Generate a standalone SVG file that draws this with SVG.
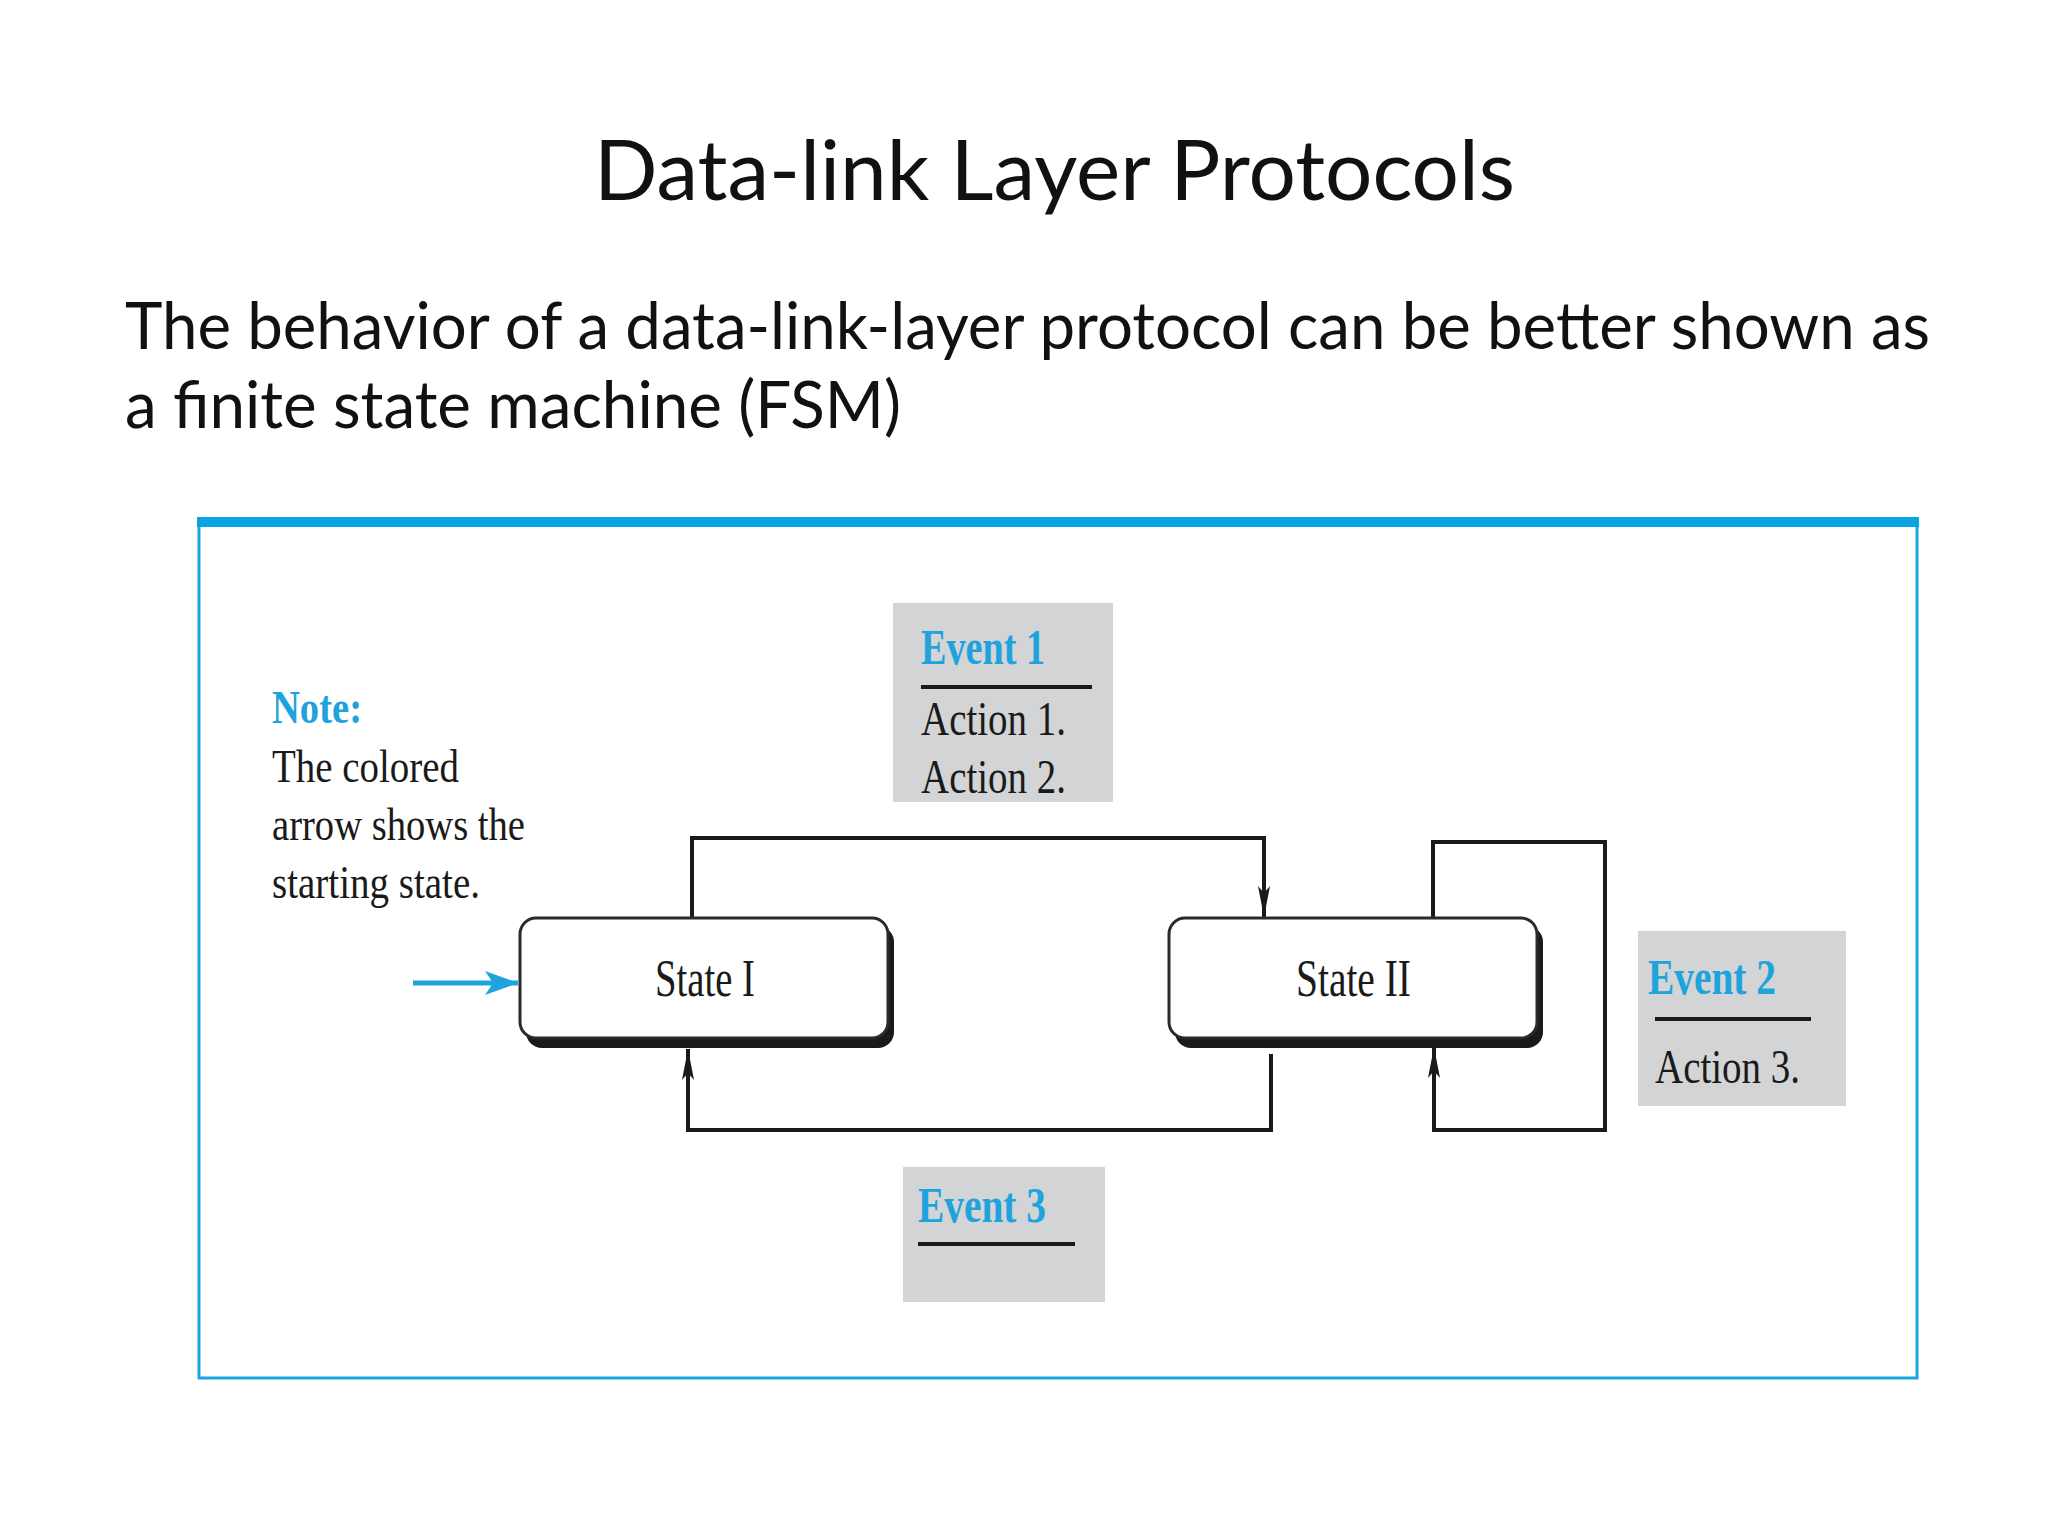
<svg xmlns="http://www.w3.org/2000/svg" width="2048" height="1536" viewBox="0 0 2048 1536">
<style>
.title{font-family:Lato,"Open Sans","Liberation Sans",sans-serif;fill:#111;}
.serif{font-family:"Liberation Serif","Times New Roman",serif;fill:#1a1a1a;}
.ev{font-family:"Liberation Serif","Times New Roman",serif;font-weight:bold;fill:#1ea3dc;}
.conn{fill:none;stroke:#1a1a1a;stroke-width:4;}
.gbox{fill:#d3d4d6;}
.ul{stroke:#1a1a1a;stroke-width:4;}
.shadow{fill:#1a1a1a;}
.state{fill:#fff;stroke:#2a2a2a;stroke-width:3;}
</style>
<defs>
<marker id="ah" markerUnits="userSpaceOnUse" markerWidth="32" markerHeight="16" viewBox="0 -8 32 16" refX="31" refY="0" orient="auto">
<path d="M0,-6 L31,0 L0,6 L7,0 z" fill="#1a1a1a"/>
</marker>
<marker id="bh" markerUnits="userSpaceOnUse" markerWidth="34" markerHeight="26" viewBox="0 -13 34 26" refX="33" refY="0" orient="auto">
<path d="M0,-12 L33,0 L0,12 L8,0 z" fill="#1ea3dc"/>
</marker>
</defs>
<rect width="2048" height="1536" fill="#fff"/>
<g id="heading">
<text class="title" x="594" y="200" font-size="84" textLength="921" lengthAdjust="spacingAndGlyphs">Data-link Layer Protocols</text>
<text class="title" x="125" y="349" font-size="66" textLength="1805" lengthAdjust="spacingAndGlyphs">The behavior of a data-link-layer protocol can be better shown as</text>
<text class="title" x="125" y="428" font-size="66" textLength="776" lengthAdjust="spacingAndGlyphs">a finite state machine (FSM)</text>
</g>
<g id="frame">
<rect x="199" y="522" width="1718" height="856" fill="none" stroke="#19a6e0" stroke-width="3"/>
<rect x="197" y="517" width="1722" height="10" fill="#0ba3e2"/>
</g>
<g id="note">
<text class="ev" x="272" y="723" font-size="47" textLength="90" lengthAdjust="spacingAndGlyphs">Note:</text>
<text class="serif" x="272" y="782" font-size="47" textLength="187" lengthAdjust="spacingAndGlyphs">The colored</text>
<text class="serif" x="272" y="840" font-size="47" textLength="253" lengthAdjust="spacingAndGlyphs">arrow shows the</text>
<text class="serif" x="272" y="898" font-size="47" textLength="208" lengthAdjust="spacingAndGlyphs">starting state.</text>
</g>
<g id="connectors">
<line x1="413" y1="983" x2="518" y2="983" stroke="#1ea3dc" stroke-width="5" marker-end="url(#bh)"/>
<path class="conn" d="M692,918 V838 H1264 V917" marker-end="url(#ah)"/>
<path class="conn" d="M1271,1054 V1130 H688 V1049" marker-end="url(#ah)"/>
<path class="conn" d="M1433,918 V842 H1605 V1130 H1434 V1047" marker-end="url(#ah)"/>
</g>
<g id="state1">
<rect class="shadow" x="526" y="926" width="368" height="122" rx="16"/>
<rect class="state" x="520" y="918" width="368" height="120" rx="16"/>
<text class="serif" x="655" y="996" font-size="52" textLength="100" lengthAdjust="spacingAndGlyphs">State I</text>
</g>
<g id="state2">
<rect class="shadow" x="1175" y="926" width="368" height="122" rx="16"/>
<rect class="state" x="1169" y="918" width="368" height="120" rx="16"/>
<text class="serif" x="1296" y="996" font-size="52" textLength="115" lengthAdjust="spacingAndGlyphs">State II</text>
</g>
<g id="event1">
<rect class="gbox" x="893" y="603" width="220" height="199"/>
<text class="ev" x="921" y="664" font-size="50" textLength="124" lengthAdjust="spacingAndGlyphs">Event 1</text>
<line class="ul" x1="921" y1="687" x2="1092" y2="687"/>
<text class="serif" x="921" y="735" font-size="49" textLength="145" lengthAdjust="spacingAndGlyphs">Action 1.</text>
<text class="serif" x="921" y="793" font-size="49" textLength="145" lengthAdjust="spacingAndGlyphs">Action 2.</text>
</g>
<g id="event2">
<rect class="gbox" x="1638" y="931" width="208" height="175"/>
<text class="ev" x="1648" y="994" font-size="50" textLength="128" lengthAdjust="spacingAndGlyphs">Event 2</text>
<line class="ul" x1="1655" y1="1019" x2="1811" y2="1019"/>
<text class="serif" x="1655" y="1083" font-size="49" textLength="145" lengthAdjust="spacingAndGlyphs">Action 3.</text>
</g>
<g id="event3">
<rect class="gbox" x="903" y="1167" width="202" height="135"/>
<text class="ev" x="918" y="1222" font-size="50" textLength="128" lengthAdjust="spacingAndGlyphs">Event 3</text>
<line class="ul" x1="918" y1="1244" x2="1075" y2="1244"/>
</g>
</svg>
